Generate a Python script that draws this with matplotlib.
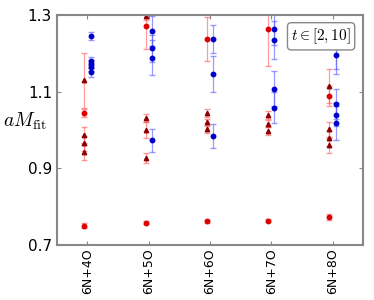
import matplotlib
matplotlib.use("Agg")
import matplotlib.pyplot as plt

plt.rcParams['mathtext.fontset'] = 'cm'

labels = ['6N+4O', '6N+5O', '6N+6O', '6N+7O', '6N+8O']

# red circles
circ_x = [0, 0, 1, 1, 2, 2, 3, 3, 4, 4]
circ_y = [1.044, 0.751, 1.272, 0.758, 1.237, 0.762, 1.263, 0.763, 1.089, 0.774]
circ_e = [0.010, 0.006, 0.060, 0.004, 0.057, 0.004, 0.097, 0.004, 0.025, 0.008]

# dark red triangles
tri_x = [0, 0, 0, 0, 1, 1, 1, 1, 2, 2, 2, 3, 3, 3, 4, 4, 4, 4]
tri_y = [1.130, 0.987, 0.965, 0.942, 1.297, 1.031, 1.000, 0.928,
         1.044, 1.020, 1.002, 1.039, 1.017, 0.997, 1.115, 1.002, 0.978, 0.960]
tri_e = [0.072, 0.020, 0.020, 0.020, 0.010, 0.010, 0.020, 0.013,
         0.010, 0.010, 0.010, 0.010, 0.010, 0.010, 0.045, 0.020, 0.020, 0.020]

# blue points
blu_x = [0, 0, 0, 0, 0, 1, 1, 1, 1, 2, 2, 2, 3, 3, 3, 3, 4, 4, 4, 4, 4]
blu_y = [1.246, 1.180, 1.172, 1.164, 1.151, 1.258, 1.213, 1.189, 0.974,
         1.237, 1.146, 0.984, 1.263, 1.235, 1.108, 1.058,
         1.220, 1.196, 1.068, 1.040, 1.018]
blu_e = [0.010, 0.010, 0.010, 0.010, 0.012, 0.040, 0.035, 0.045, 0.030,
         0.037, 0.047, 0.031, 0.040, 0.050, 0.045, 0.040,
         0.060, 0.050, 0.040, 0.030, 0.045]

fig = plt.figure(figsize=(3.74, 3.0), dpi=100)
ax = fig.add_axes([0.152, 0.183, 0.819, 0.767])

ax.errorbar([x - 0.05 for x in tri_x], tri_y, yerr=tri_e, fmt='^', color='#8b0000',
            ms=3.2, ecolor=(1, 0.35, 0.35, 0.6), elinewidth=0.9, capsize=2)
ax.errorbar([x - 0.05 for x in circ_x], circ_y, yerr=circ_e, fmt='o', color='#dd0000',
            ms=3.2, ecolor=(1, 0.35, 0.35, 0.6), elinewidth=0.9, capsize=2)
ax.errorbar([x + 0.05 for x in blu_x], blu_y, yerr=blu_e, fmt='o', color='#0000cc',
            ms=3.2, ecolor=(0.35, 0.35, 1, 0.6), elinewidth=0.9, capsize=2)

ax.set_xlim(-0.5, 4.5)
ax.set_ylim(0.7, 1.3)
ax.set_yticks([0.7, 0.9, 1.1, 1.3])
ax.set_xticks(range(5))
ax.set_xticklabels(labels, rotation=90, fontsize=9)
ax.tick_params(axis='y', labelsize=11)
ax.tick_params(axis='x', pad=2)
ax.tick_params(direction='in', top=True, right=True, length=3, color='#888888')
for s in ax.spines.values():
    s.set_color('#888888')
    s.set_linewidth(1.5)

ax.set_ylabel(r'$aM_{\rm fit}$', rotation=0, fontsize=14)
ax.yaxis.set_label_coords(-0.105, 0.49)

ax.text(0.96, 0.95, r'$t\in[2,10]$', transform=ax.transAxes, ha='right', va='top',
        fontsize=11, bbox=dict(boxstyle='round,pad=0.25', fc='white', ec='#888888'))

fig.savefig('out.png', dpi=100)
